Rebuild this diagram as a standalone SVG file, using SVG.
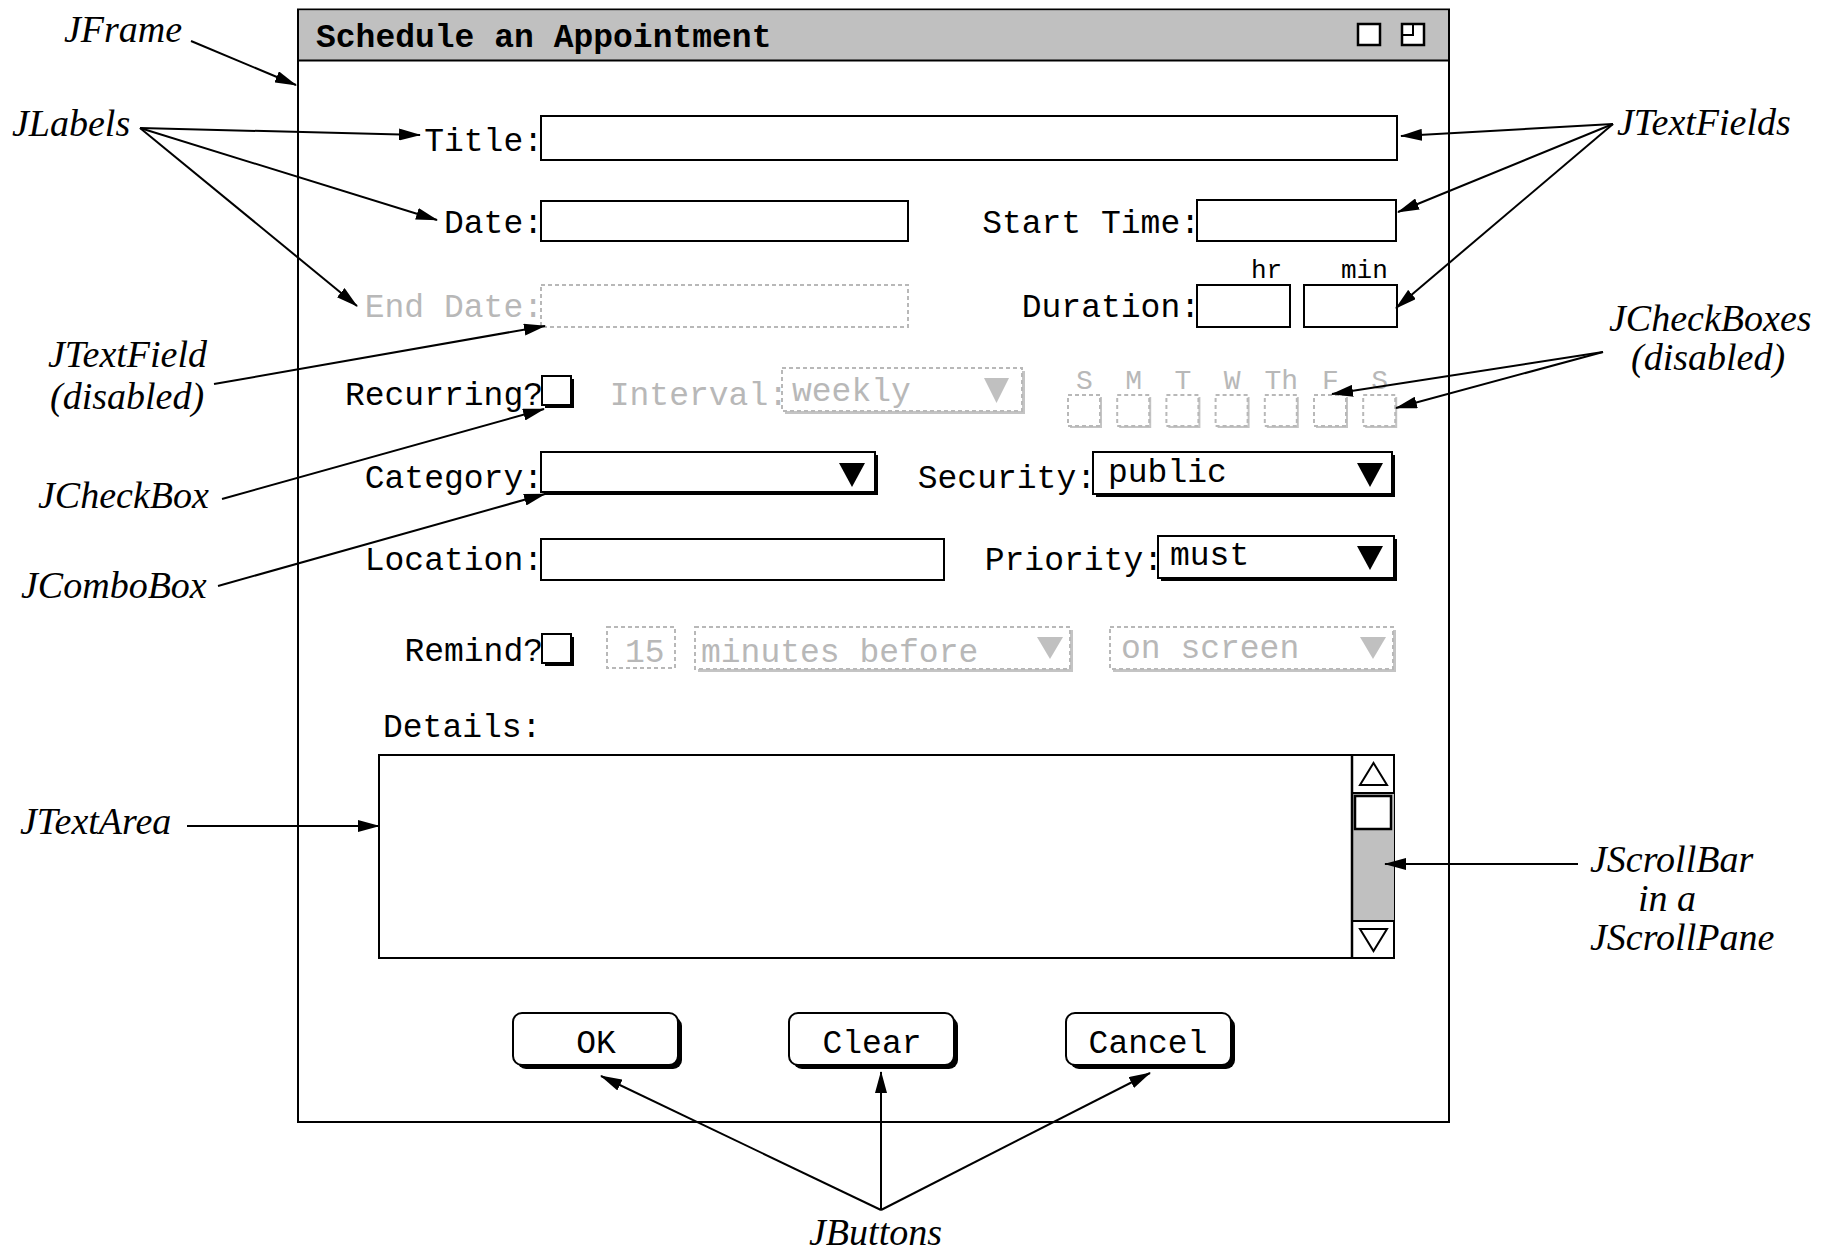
<svg xmlns="http://www.w3.org/2000/svg" width="1834" height="1253" viewBox="0 0 1834 1253">
  <defs>
    <style>
      .mono { font-family: "Liberation Mono", "Courier New", monospace; font-size: 33px; fill: #000; }
      .title { font-family: "Liberation Mono", "Courier New", monospace; font-size: 33px; font-weight: bold; fill: #000; }
      .small { font-family: "Liberation Mono", "Courier New", monospace; font-size: 26px; fill: #000; }
      .day { font-family: "Liberation Mono", "Courier New", monospace; font-size: 28px; fill: #b8b8b8; text-anchor: middle; }
      .dis { fill: #b8b8b8; }
      .note { font-family: "Liberation Serif", "Times New Roman", serif; font-style: italic; font-size: 38px; fill: #000; }
      .box { fill: #fff; stroke: #000; stroke-width: 2; }
      .shadow { fill: #000; }
      .dbox { fill: #fff; stroke: #b8b8b8; stroke-width: 2; stroke-dasharray: 4 3; }
      .dshadow { fill: #c4c4c4; }
      .tri { fill: #000; }
      .dtri { fill: #c0c0c0; }
      .conn { fill: none; stroke: #000; stroke-width: 2; marker-end: url(#ah); }
    </style>
    <marker id="ah" markerUnits="userSpaceOnUse" markerWidth="22" markerHeight="12" refX="21" refY="6" orient="auto">
      <path d="M0,0 L22,6 L0,12 z" fill="#000"/>
    </marker>
  </defs>

  <rect width="1834" height="1253" fill="#fff"/>

  <!-- Window frame with title bar -->
  <g id="frame">
    <rect x="298" y="9.5" width="1151" height="1112.5" fill="#fff" stroke="#000" stroke-width="2"/>
    <rect x="299" y="10.5" width="1149" height="50" fill="#c0c0c0"/>
    <line x1="298" y1="60.5" x2="1449" y2="60.5" stroke="#000" stroke-width="2"/>
    <text class="title" x="316" y="47">Schedule an Appointment</text>
    <rect x="1358" y="24" width="22" height="21" fill="#fff" stroke="#000" stroke-width="2.5"/>
    <rect x="1402" y="24" width="22" height="21" fill="#fff" stroke="#000" stroke-width="2.5"/>
    <rect x="1402" y="24" width="11" height="11" fill="none" stroke="#000" stroke-width="2"/>
  </g>

  <!-- Title row -->
  <g id="title-field">
    <text class="mono" x="543" y="151" text-anchor="end">Title:</text>
    <rect class="box" x="541" y="116" width="856" height="44"/>
  </g>

  <!-- Date / start time row -->
  <g id="date-field">
    <text class="mono" x="543" y="233" text-anchor="end">Date:</text>
    <rect class="box" x="541" y="201" width="367" height="40"/>
  </g>
  <g id="start-time-field">
    <text class="mono" x="1200" y="233" text-anchor="end">Start Time:</text>
    <rect class="box" x="1197" y="200" width="199" height="41"/>
  </g>

  <!-- End date (disabled) and duration row -->
  <g id="end-date-field">
    <text class="mono dis" x="543" y="317" text-anchor="end">End Date:</text>
    <rect class="dbox" x="541" y="285" width="367" height="42"/>
  </g>
  <g id="duration-fields">
    <text class="mono" x="1200" y="317" text-anchor="end">Duration:</text>
    <text class="small" x="1251" y="278">hr</text>
    <text class="small" x="1341" y="278">min</text>
    <rect class="box" x="1197" y="285" width="93" height="42"/>
    <rect class="box" x="1304" y="285" width="93" height="42"/>
  </g>

  <!-- Recurrence row -->
  <g id="recurring-checkbox">
    <text class="mono" x="543" y="405" text-anchor="end">Recurring?</text>
    <rect class="shadow" x="545" y="379" width="29" height="29"/>
    <rect class="box" x="542" y="376" width="29" height="29"/>
  </g>
  <g id="interval-combo">
    <text class="mono dis" x="788" y="405" text-anchor="end">Interval:</text>
    <rect class="dshadow" x="785" y="371" width="240" height="43"/>
    <rect class="dbox" x="782" y="368" width="240" height="43"/>
    <text class="mono dis" x="792" y="401">weekly</text>
    <polygon class="dtri" points="984,378 1009,378 996.5,403"/>
  </g>
  <g id="weekday-checkboxes">
    <text class="day" x="1084.5" y="389">S</text>
    <text class="day" x="1133.7" y="389">M</text>
    <text class="day" x="1182.9" y="389">T</text>
    <text class="day" x="1232.1" y="389">W</text>
    <text class="day" x="1281.3" y="389">Th</text>
    <text class="day" x="1330.5" y="389">F</text>
    <text class="day" x="1379.7" y="389">S</text>
    <rect class="dshadow" x="1070" y="397" width="32" height="31"/>
    <rect class="dshadow" x="1119.2" y="397" width="32" height="31"/>
    <rect class="dshadow" x="1168.4" y="397" width="32" height="31"/>
    <rect class="dshadow" x="1217.6" y="397" width="32" height="31"/>
    <rect class="dshadow" x="1266.8" y="397" width="32" height="31"/>
    <rect class="dshadow" x="1316" y="397" width="32" height="31"/>
    <rect class="dshadow" x="1365.2" y="397" width="32" height="31"/>
    <rect class="dbox" x="1068" y="395" width="32" height="31"/>
    <rect class="dbox" x="1117.2" y="395" width="32" height="31"/>
    <rect class="dbox" x="1166.4" y="395" width="32" height="31"/>
    <rect class="dbox" x="1215.6" y="395" width="32" height="31"/>
    <rect class="dbox" x="1264.8" y="395" width="32" height="31"/>
    <rect class="dbox" x="1314" y="395" width="32" height="31"/>
    <rect class="dbox" x="1363.2" y="395" width="32" height="31"/>
  </g>

  <!-- Category / security row -->
  <g id="category-combo">
    <text class="mono" x="543" y="488" text-anchor="end">Category:</text>
    <rect class="shadow" x="544" y="455" width="334" height="40"/>
    <rect class="box" x="541" y="452" width="334" height="40"/>
    <polygon class="tri" points="839,463 865,463 852,487"/>
  </g>
  <g id="security-combo">
    <text class="mono" x="1096" y="488" text-anchor="end">Security:</text>
    <rect class="shadow" x="1096" y="455" width="299" height="42"/>
    <rect class="box" x="1093" y="452" width="299" height="42"/>
    <text class="mono" x="1108" y="482">public</text>
    <polygon class="tri" points="1357,463 1383,463 1370,487"/>
  </g>

  <!-- Location / priority row -->
  <g id="location-field">
    <text class="mono" x="543" y="570" text-anchor="end">Location:</text>
    <rect class="box" x="541" y="539" width="403" height="41"/>
  </g>
  <g id="priority-combo">
    <text class="mono" x="1163" y="570" text-anchor="end">Priority:</text>
    <rect class="shadow" x="1161" y="539" width="236" height="42"/>
    <rect class="box" x="1158" y="536" width="236" height="42"/>
    <text class="mono" x="1170" y="565">must</text>
    <polygon class="tri" points="1357,546 1383,546 1370,570"/>
  </g>

  <!-- Reminder row -->
  <g id="remind-checkbox">
    <text class="mono" x="543" y="661" text-anchor="end">Remind?</text>
    <rect class="shadow" x="545" y="637" width="29" height="29"/>
    <rect class="box" x="542" y="634" width="29" height="29"/>
  </g>
  <g id="remind-minutes-field">
    <rect class="dbox" x="607" y="627" width="68" height="41"/>
    <text class="mono dis" x="625" y="662">15</text>
  </g>
  <g id="remind-unit-combo">
    <rect class="dshadow" x="698" y="630" width="375" height="42"/>
    <rect class="dbox" x="695" y="627" width="375" height="42"/>
    <text class="mono dis" x="701" y="662">minutes before</text>
    <polygon class="dtri" points="1037,637 1063,637 1050,659"/>
  </g>
  <g id="remind-method-combo">
    <rect class="dshadow" x="1113" y="630" width="283" height="42"/>
    <rect class="dbox" x="1110" y="627" width="283" height="42"/>
    <text class="mono dis" x="1121" y="658">on screen</text>
    <polygon class="dtri" points="1360,637 1386,637 1373,659"/>
  </g>

  <!-- Details text area with scroll bar -->
  <g id="details-area">
    <text class="mono" x="383" y="737">Details:</text>
    <rect class="box" x="379" y="755" width="1015" height="203"/>
  </g>
  <g id="details-scrollbar">
    <rect x="1352" y="793" width="42" height="128" fill="#c0c0c0"/>
    <line x1="1352" y1="755" x2="1352" y2="958" stroke="#000" stroke-width="2.5"/>
    <line x1="1352" y1="793" x2="1394" y2="793" stroke="#000" stroke-width="2"/>
    <line x1="1352" y1="921" x2="1394" y2="921" stroke="#000" stroke-width="2"/>
    <rect x="1355" y="796" width="36" height="33" fill="#fff" stroke="#000" stroke-width="2.5"/>
    <polygon points="1360,785 1387,785 1373.5,763" fill="#fff" stroke="#000" stroke-width="2"/>
    <polygon points="1360,929 1387,929 1373.5,951" fill="#fff" stroke="#000" stroke-width="2"/>
  </g>

  <!-- Push buttons -->
  <g id="ok-button">
    <rect class="shadow" x="517" y="1017" width="165" height="52" rx="9"/>
    <rect class="box" x="513" y="1013" width="165" height="52" rx="9"/>
    <text class="mono" x="596" y="1053" text-anchor="middle">OK</text>
  </g>
  <g id="clear-button">
    <rect class="shadow" x="793" y="1017" width="165" height="52" rx="9"/>
    <rect class="box" x="789" y="1013" width="165" height="52" rx="9"/>
    <text class="mono" x="872" y="1053" text-anchor="middle">Clear</text>
  </g>
  <g id="cancel-button">
    <rect class="shadow" x="1070" y="1017" width="165" height="52" rx="9"/>
    <rect class="box" x="1066" y="1013" width="165" height="52" rx="9"/>
    <text class="mono" x="1148" y="1053" text-anchor="middle">Cancel</text>
  </g>

  <!-- Callout captions -->
  <g id="cap-jframe"><text class="note" x="64" y="42">JFrame</text></g>
  <g id="cap-jlabels"><text class="note" x="12" y="136">JLabels</text></g>
  <g id="cap-jtextfields"><text class="note" x="1617" y="135">JTextFields</text></g>
  <g id="cap-jtextfield-disabled">
    <text class="note" x="48" y="367">JTextField</text>
    <text class="note" x="50" y="409">(disabled)</text>
  </g>
  <g id="cap-jcheckboxes">
    <text class="note" x="1609" y="331">JCheckBoxes</text>
    <text class="note" x="1631" y="370">(disabled)</text>
  </g>
  <g id="cap-jcheckbox"><text class="note" x="38" y="508">JCheckBox</text></g>
  <g id="cap-jcombobox"><text class="note" x="21" y="598">JComboBox</text></g>
  <g id="cap-jtextarea"><text class="note" x="20" y="834">JTextArea</text></g>
  <g id="cap-jscrollbar">
    <text class="note" x="1590" y="872">JScrollBar</text>
    <text class="note" x="1638" y="911">in a</text>
    <text class="note" x="1590" y="950">JScrollPane</text>
  </g>
  <g id="cap-jbuttons"><text class="note" x="809" y="1245">JButtons</text></g>

  <!-- Callout connectors -->
  <g id="connectors">
    <line class="conn" x1="191" y1="41" x2="296" y2="85"/>
    <line class="conn" x1="140" y1="128" x2="420" y2="135"/>
    <line class="conn" x1="140" y1="128" x2="437" y2="220"/>
    <line class="conn" x1="140" y1="128" x2="357" y2="306"/>
    <line class="conn" x1="1613" y1="124" x2="1401" y2="136"/>
    <line class="conn" x1="1613" y1="124" x2="1398" y2="212"/>
    <line class="conn" x1="1613" y1="124" x2="1396" y2="308"/>
    <line class="conn" x1="214" y1="384" x2="545" y2="326"/>
    <line class="conn" x1="222" y1="499" x2="544" y2="409"/>
    <line class="conn" x1="218" y1="586" x2="545" y2="494"/>
    <line class="conn" x1="1603" y1="352" x2="1332" y2="394"/>
    <line class="conn" x1="1603" y1="352" x2="1396" y2="408"/>
    <line class="conn" x1="187" y1="826" x2="379" y2="826"/>
    <line class="conn" x1="1578" y1="864" x2="1385" y2="864"/>
    <line class="conn" x1="881" y1="1210" x2="601" y2="1076"/>
    <line class="conn" x1="881" y1="1210" x2="881" y2="1072"/>
    <line class="conn" x1="881" y1="1210" x2="1150" y2="1073"/>
  </g>
</svg>
